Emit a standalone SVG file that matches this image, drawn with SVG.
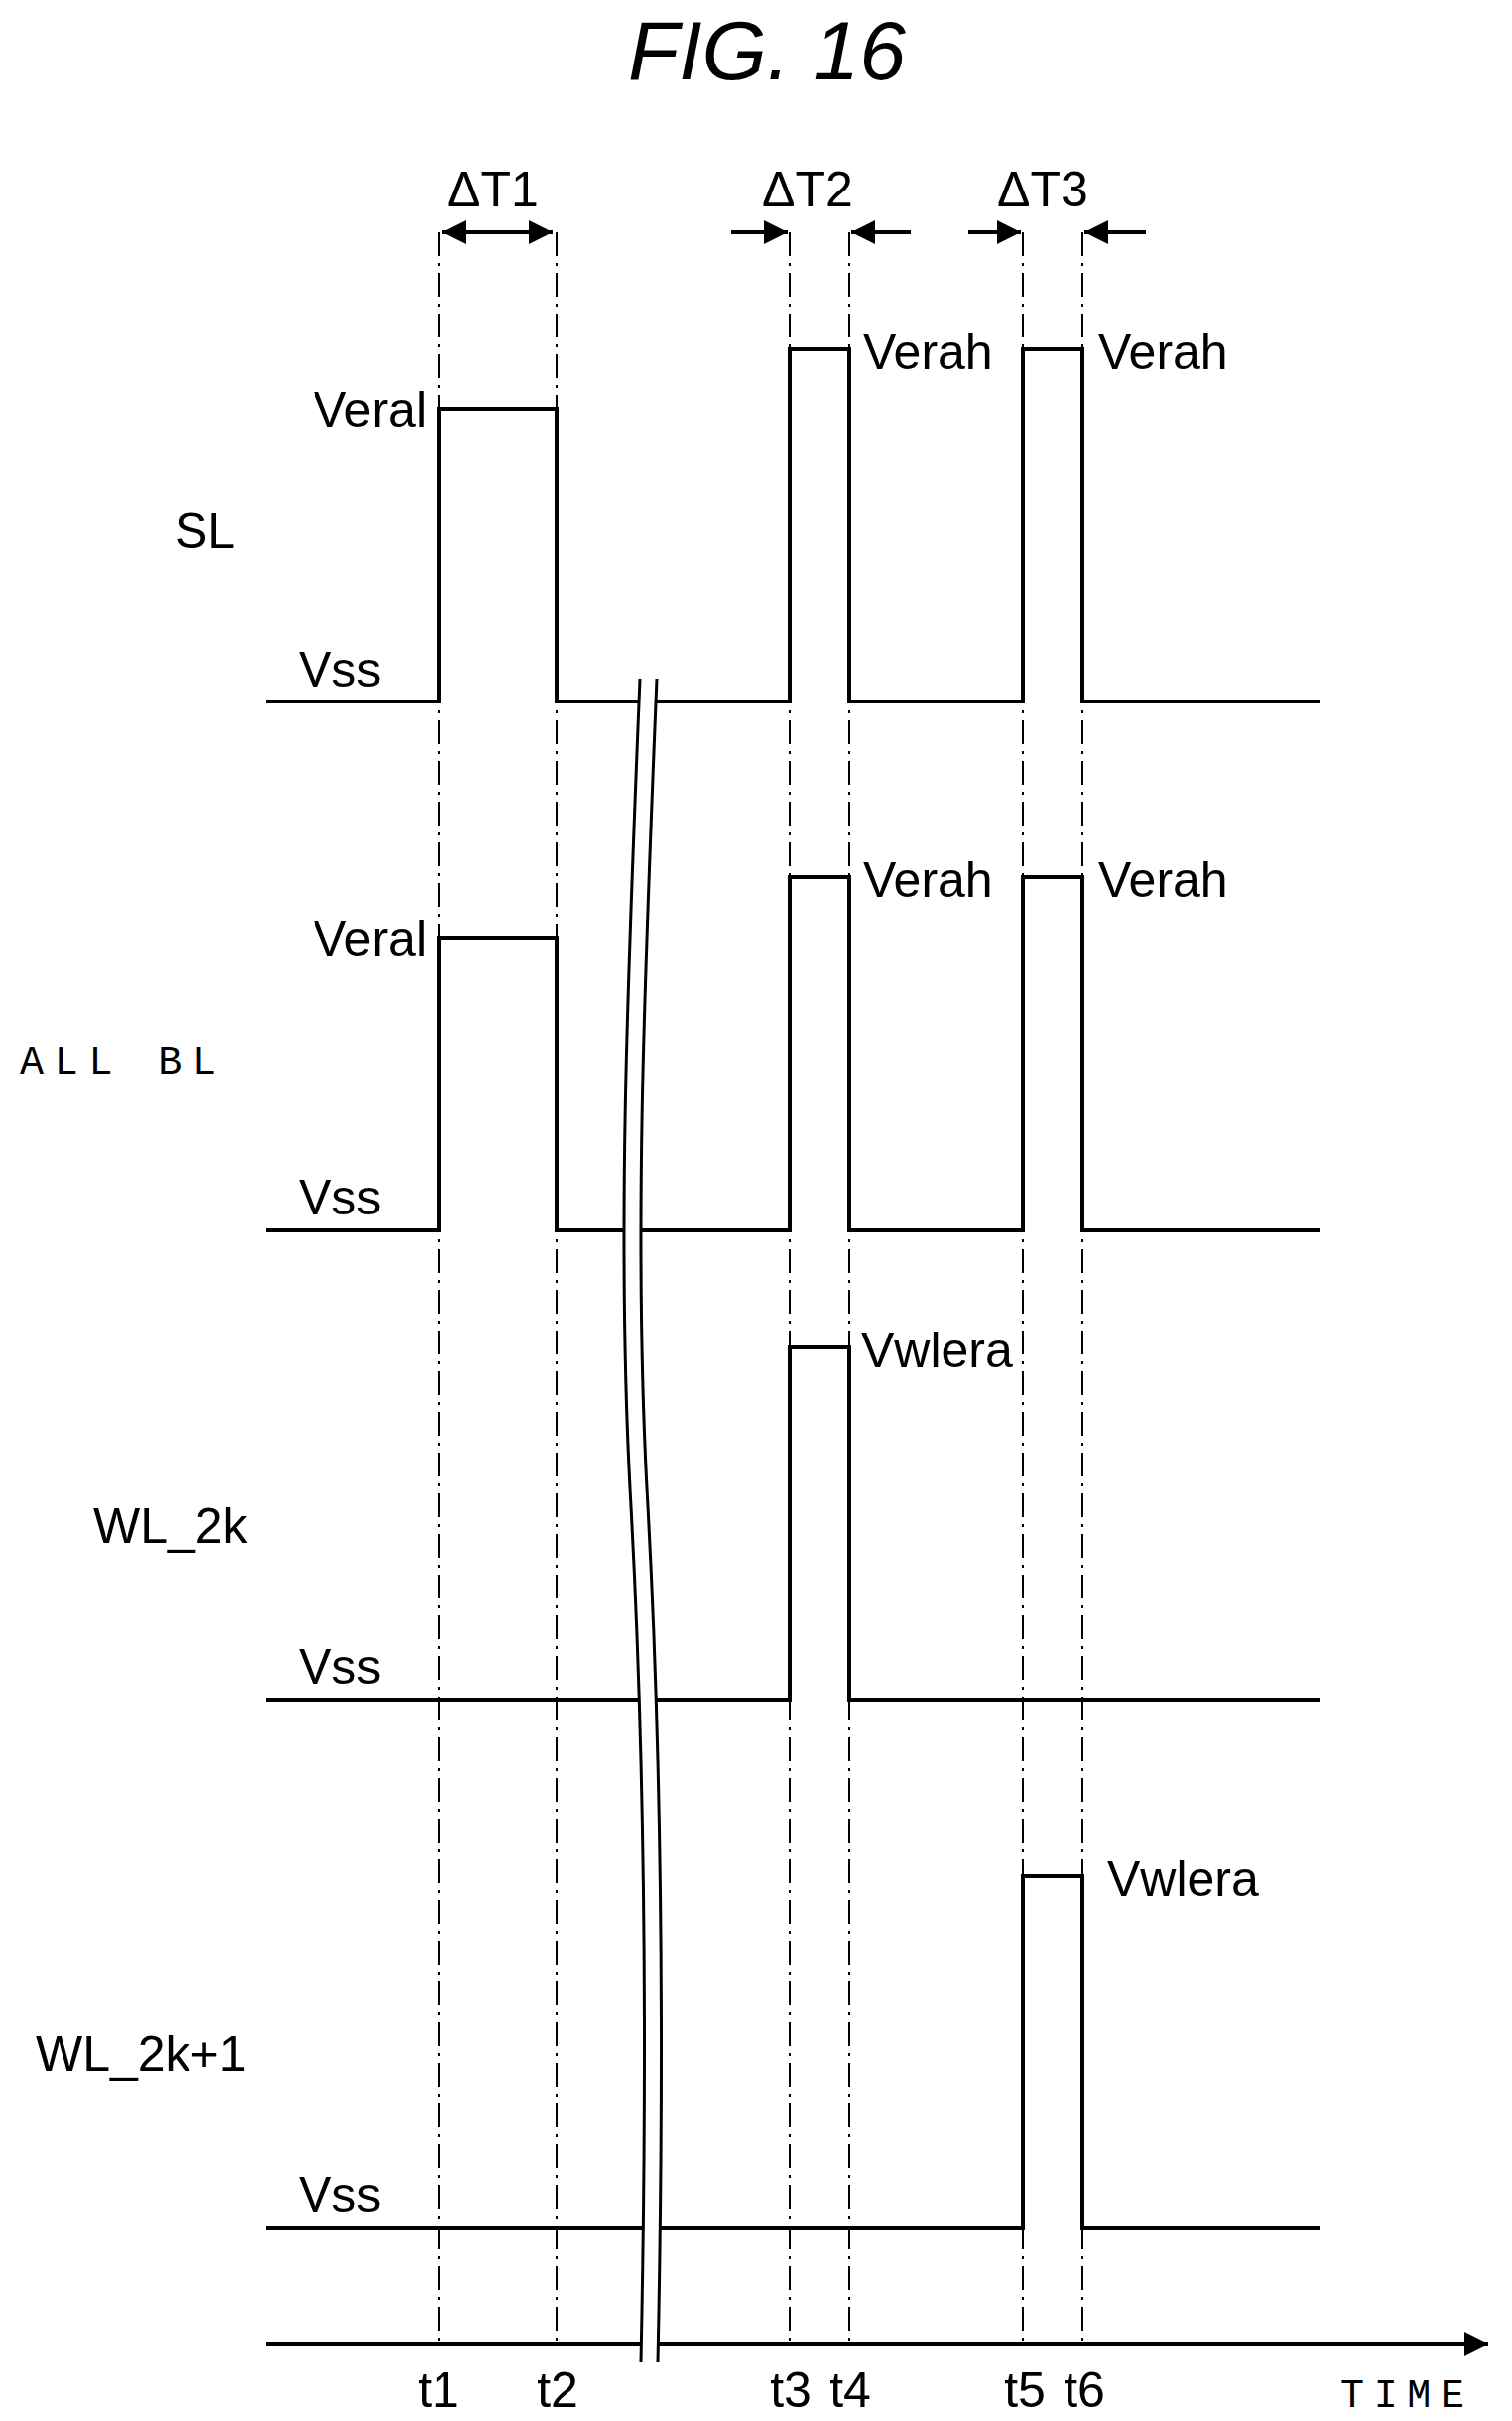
<svg xmlns="http://www.w3.org/2000/svg" width="1524" height="2440" viewBox="0 0 1524 2440">
<defs>
<style>
.s{fill:none;stroke:#000;stroke-width:4}
.d{fill:none;stroke:#000;stroke-width:2;stroke-dasharray:24 7 3 7}
.t{font-family:"Liberation Sans",Arial,sans-serif;font-size:50px;fill:#000}
.m{font-family:"Liberation Mono",monospace;font-size:40px;fill:#000}
</style>
<marker id="ah" viewBox="0 0 10 10" refX="10" refY="5" markerWidth="6" markerHeight="6" orient="auto-start-reverse"><path d="M0,0 L10,5 L0,10 Z" fill="#000"/></marker>
</defs>
<rect width="1524" height="2440" fill="#fff"/>
<text x="773" y="80" text-anchor="middle" font-family="Liberation Sans,Arial,sans-serif" font-style="italic" font-size="84">FIG. 16</text>
<g id="guides">
<path class="d" d="M442 234V2362M561 234V2362M796 234V2362M856 234V2362M1031 234V2362M1091 234V2362"/>
</g>
<g id="connectors">
<path class="s" d="M268 707H442V412H561V707H796V352H856V707H1031V352H1091V707H1330"/>
<path class="s" d="M268 1240H442V945H561V1240H796V884H856V1240H1031V884H1091V1240H1330"/>
<path class="s" d="M268 1713H796V1358H856V1713H1330"/>
<path class="s" d="M268 2245H1031V1891H1091V2245H1330"/>
<path class="s" d="M268 2362H1500" marker-end="url(#ah)"/>
<path class="s" d="M446 234H557" marker-start="url(#ah)" marker-end="url(#ah)"/>
<path class="s" d="M737 234H794" marker-end="url(#ah)"/>
<path class="s" d="M918 234H858" marker-end="url(#ah)"/>
<path class="s" d="M976 234H1029" marker-end="url(#ah)"/>
<path class="s" d="M1155 234H1093" marker-end="url(#ah)"/>
<path d="M653 684C640 1000 630 1250 643 1500C660 1800 660 2100 654 2381" fill="none" stroke="#fff" stroke-width="16"/>
<path d="M645 684C632 1000 622 1250 635 1500C652 1800 652 2100 646 2381M662 684C649 1000 639 1250 652 1500C669 1800 669 2100 663 2381" fill="none" stroke="#000" stroke-width="3"/>
</g>
<g id="labels">
<text class="t" x="451" y="208">ΔT1</text>
<text class="t" x="768" y="208">ΔT2</text>
<text class="t" x="1005" y="208">ΔT3</text>
<text class="t" x="176" y="552">SL</text>
<text class="t" x="430" y="430" text-anchor="end">Veral</text>
<text class="t" x="301" y="692">Vss</text>
<text class="t" x="870" y="372">Verah</text>
<text class="t" x="1107" y="372">Verah</text>
<text class="m" x="20" y="1082" textLength="198">ALL BL</text>
<text class="t" x="430" y="963" text-anchor="end">Veral</text>
<text class="t" x="301" y="1224">Vss</text>
<text class="t" x="870" y="904">Verah</text>
<text class="t" x="1107" y="904">Verah</text>
<text class="t" x="94" y="1555">WL_2k</text>
<text class="t" x="301" y="1697">Vss</text>
<text class="t" x="868" y="1378">Vwlera</text>
<text class="t" x="36" y="2087">WL_2k+1</text>
<text class="t" x="301" y="2229">Vss</text>
<text class="t" x="1116" y="1911">Vwlera</text>
<text class="t" x="442" y="2426" text-anchor="middle">t1</text>
<text class="t" x="562" y="2426" text-anchor="middle">t2</text>
<text class="t" x="797" y="2426" text-anchor="middle">t3</text>
<text class="t" x="857" y="2426" text-anchor="middle">t4</text>
<text class="t" x="1033" y="2426" text-anchor="middle">t5</text>
<text class="t" x="1093" y="2426" text-anchor="middle">t6</text>
<text class="m" x="1351" y="2426" textLength="125">TIME</text>
</g>
</svg>
